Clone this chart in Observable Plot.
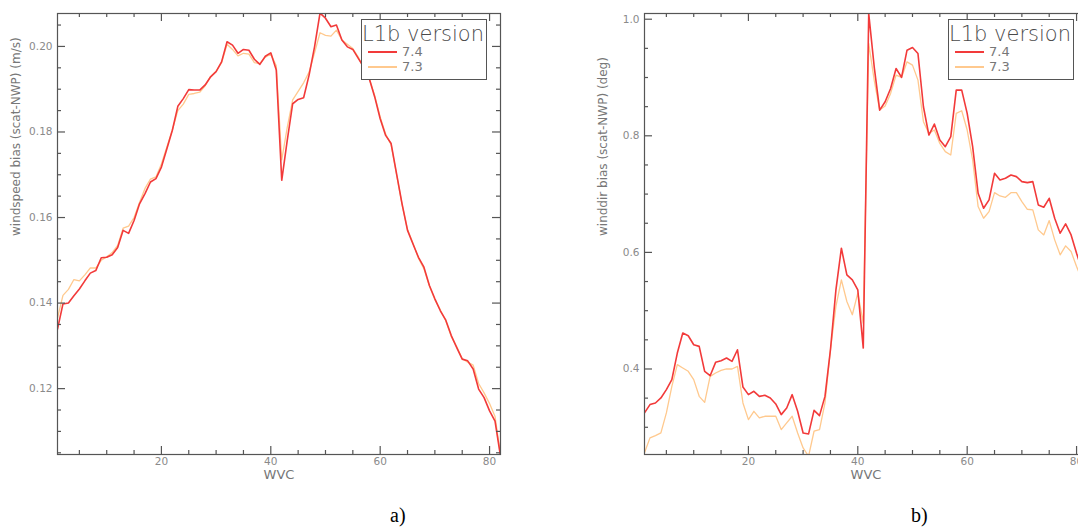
<!DOCTYPE html>
<html><head><meta charset="utf-8">
<script src="https://cdn.jsdelivr.net/npm/d3@7"></script>
<script src="https://cdn.jsdelivr.net/npm/@observablehq/plot@0.6"></script>
<style>
html,body{margin:0;padding:0;background:#fff;overflow:hidden;}
#fig{position:relative;width:1078px;height:528px;overflow:hidden;background:#fff;}
.panel{position:absolute;top:0;width:540px;height:490px;}
.panel svg{max-width:none !important;}
.legend{position:absolute;width:126px;height:61px;border:1.5px solid #555;box-sizing:border-box;font-family:"DejaVu Sans";color:#666;background:#fff;}
.legend .ttl{position:absolute;left:0px;top:-1px;font-size:21px;font-weight:200;line-height:30px;white-space:nowrap;color:#4a4a4a;}
.legend .sw{position:absolute;left:6px;width:29px;height:0;border-top:2px solid;}
.legend .lb{position:absolute;left:40px;font-size:13px;line-height:14px;color:#777;}
.tag{position:absolute;top:505px;font-family:"Liberation Serif";font-size:20px;line-height:20px;color:#000;}
svg g[aria-label="title"] text{letter-spacing:1.6px;}
</style></head><body>
<div id="fig"></div>
<script>
// ---- data ----
const wvc = d3.range(1, 83); // wind vector cell index 1..82
const versions = ["7.4", "7.3"];
const speed74 = [0.1339,0.1398,0.1400,0.1417,0.1433,0.1452,0.1470,0.1476,0.1506,0.1507,
0.1513,0.1530,0.1570,0.1563,0.1593,0.1632,0.1656,0.1683,0.1691,0.1718,
0.1761,0.1804,0.1860,0.1878,0.1899,0.1898,0.1898,0.1910,0.1929,0.1941,
0.1964,0.2011,0.2003,0.1984,0.1993,0.1991,0.1970,0.1958,0.1977,0.1985,
0.1945,0.1687,0.1780,0.1866,0.1876,0.1880,0.1933,0.1999,0.2078,0.2066,
0.2046,0.2050,0.2015,0.1999,0.1993,0.1972,0.1952,0.1925,0.1882,0.1831,
0.1792,0.1773,0.1702,0.1632,0.1570,0.1538,0.1507,0.1484,0.1441,0.1410,
0.1382,0.1360,0.1324,0.1296,0.1269,0.1265,0.1246,0.1199,0.1179,0.1148,
0.1124,0.1042];
const speed73 = [0.1365,0.1418,0.1432,0.1455,0.1452,0.1466,0.1482,0.1482,0.1500,0.1508,
0.1518,0.1535,0.1575,0.1580,0.1600,0.1635,0.1668,0.1690,0.1695,0.1725,
0.1765,0.1805,0.1850,0.1865,0.1888,0.1890,0.1893,0.1908,0.1930,0.1942,
0.1962,0.2005,0.1993,0.1978,0.1984,0.1982,0.1962,0.1960,0.1975,0.1982,
0.1955,0.1735,0.1810,0.1875,0.1895,0.1915,0.1940,0.1985,0.2032,0.2026,
0.2024,0.2038,0.2015,0.2005,0.1995,0.1975,0.1948,0.1925,0.1885,0.1835,
0.1795,0.1770,0.1700,0.1630,0.1572,0.1540,0.1505,0.1480,0.1440,0.1408,
0.1384,0.1358,0.1322,0.1298,0.1270,0.1262,0.1255,0.1212,0.1190,0.1165,
0.1135,0.1045];
const dir74 = [0.3246,0.3389,0.3417,0.3503,0.3645,0.3817,0.4273,0.4616,0.4570,0.4416,
0.4388,0.3960,0.3885,0.4114,0.4142,0.4188,0.4130,0.4330,0.3690,0.3560,
0.3617,0.3530,0.3548,0.3503,0.3400,0.3217,0.3331,0.3560,0.3274,0.2903,
0.2886,0.3291,0.3200,0.3530,0.4330,0.5358,0.6072,0.5615,0.5530,0.5358,
0.4359,1.0097,0.9184,0.8441,0.8584,0.8812,0.9155,0.9001,0.9469,0.9515,
0.9412,0.8498,0.8013,0.8202,0.7928,0.7813,0.7985,0.8784,0.8784,0.8384,
0.7813,0.7014,0.6757,0.6900,0.7357,0.7242,0.7271,0.7328,0.7300,0.7214,
0.7197,0.7214,0.6814,0.6774,0.6928,0.6586,0.6329,0.6489,0.6300,0.5986,
0.5700,0.5600];
const dir73 = [0.2561,0.2818,0.2858,0.2903,0.3246,0.3703,0.4074,0.4017,0.3960,0.3817,
0.3531,0.3428,0.3874,0.3931,0.3977,0.4000,0.4000,0.4045,0.3417,0.3132,
0.3274,0.3160,0.3189,0.3189,0.3189,0.2960,0.3075,0.3189,0.2903,0.2646,
0.2504,0.2932,0.2960,0.3417,0.4330,0.5073,0.5530,0.5158,0.4930,0.5301,
0.4787,0.9583,0.8955,0.8441,0.8510,0.8727,0.9041,0.9001,0.9269,0.9212,
0.8955,0.8242,0.8042,0.8099,0.7870,0.7728,0.7671,0.8384,0.8430,0.8099,
0.7585,0.6786,0.6586,0.6700,0.7025,0.6968,0.6945,0.7025,0.7025,0.6871,
0.6740,0.6728,0.6386,0.6300,0.6546,0.6215,0.5958,0.6112,0.6015,0.5758,
0.5530,0.5350];
const xMajor = [20, 40, 60, 80];
const xMinor = [5, 10, 15, 25, 30, 35, 45, 50, 55, 65, 70, 75];
const speedMajor = [0.12, 0.14, 0.16, 0.18, 0.20];
const speedMinor = [0.105, 0.110, 0.115, 0.125, 0.130, 0.135, 0.145, 0.150, 0.155, 0.165, 0.170, 0.175, 0.185, 0.190, 0.195, 0.205];
const dirMajor = [0.4, 0.6, 0.8, 1.0];
const dirMinor = [0.30, 0.35, 0.45, 0.50, 0.55, 0.65, 0.70, 0.75, 0.85, 0.90, 0.95];
const xDomain = [1, 82];
const speedDomain = [0.1046, 0.2077];
const dirDomain = [0.2533, 1.0098];

// ---- style / layout ----
const seriesColor = {"7.4": "#f23a3a", "7.3": "#ffc98e"};
const seriesWidth = {"7.4": 1.6, "7.3": 1.3};
const axisInk = "#555";
const tickInk = "#555";
const labelInk = "#8a8a8a";
const W = 540, H = 490, mL = 57, mR = 40, mT = 13, mB = 36;
const frameW = W - mL - mR, frameH = H - mT - mB;
const majorLen = 8, minorLen = 4;

function rows(a, b) {
  return [
    ...wvc.map((w, i) => ({wvc: w, v: b[i], version: "7.3"})),
    ...wvc.map((w, i) => ({wvc: w, v: a[i], version: "7.4"}))
  ];
}

// inward tick marks on all four sides of the frame
function tickMarks(yMajor, yMinor) {
  const s = {stroke: tickInk, strokeWidth: 1.2};
  return [
    Plot.ruleX(xMajor, {x: d => d, insetTop: frameH - majorLen, ...s}),
    Plot.ruleX(xMinor, {x: d => d, insetTop: frameH - minorLen, ...s}),
    Plot.ruleX(xMajor, {x: d => d, insetBottom: frameH - majorLen, ...s}),
    Plot.ruleX(xMinor, {x: d => d, insetBottom: frameH - minorLen, ...s}),
    Plot.ruleY(yMajor, {y: d => d, insetRight: frameW - majorLen, ...s}),
    Plot.ruleY(yMinor, {y: d => d, insetRight: frameW - minorLen, ...s}),
    Plot.ruleY(yMajor, {y: d => d, insetLeft: frameW - majorLen, ...s}),
    Plot.ruleY(yMinor, {y: d => d, insetLeft: frameW - minorLen, ...s})
  ];
}

function panel({data, yDomain, yMajor, yMinor, yFmt, yTitle}) {
  return Plot.plot({
    width: W, height: H,
    marginLeft: mL, marginRight: mR, marginTop: mT, marginBottom: mB,
    style: {fontFamily: "DejaVu Sans", fontSize: "10.5px", background: "#fff", color: labelInk, maxWidth: "none"},
    x: {domain: xDomain},
    y: {domain: yDomain},
    marks: [
      Plot.line(data.filter(d => d.version === "7.3"), {x: "wvc", y: "v", stroke: seriesColor["7.3"], strokeWidth: seriesWidth["7.3"], clip: true}),
      Plot.line(data.filter(d => d.version === "7.4"), {x: "wvc", y: "v", stroke: seriesColor["7.4"], strokeWidth: seriesWidth["7.4"], clip: true}),
      Plot.frame({stroke: axisInk, strokeWidth: 1.2}),
      ...tickMarks(yMajor, yMinor),
      // tick labels
      Plot.axisX({ticks: xMajor, anchor: "bottom", tickSize: 0, tickPadding: 3, tickFormat: "d", label: null, fill: labelInk}),
      Plot.axisY({ticks: yMajor, anchor: "left", tickSize: 0, tickPadding: 5, tickFormat: yFmt, label: null, fill: labelInk}),
      // axis titles
      Plot.text(["WVC"], {text: d => d, frameAnchor: "bottom", lineAnchor: "top", dy: 15, fontSize: 13, fill: "#777", ariaLabel: "title"}),
      Plot.text([yTitle], {text: d => d, frameAnchor: "left", dx: -41, dy: 2, rotate: -90, fontSize: 12, fill: "#777", ariaLabel: "title"})
    ]
  });
}

const fig = document.getElementById("fig");

const panels = [
  {left: 0, tag: "a)", tagLeft: 390, legendLeft: 361,
   data: rows(speed74, speed73), yDomain: speedDomain, yMajor: speedMajor, yMinor: speedMinor,
   yFmt: d3.format(".2f"), yTitle: "windspeed bias (scat-NWP) (m/s)"},
  {left: 587, tag: "b)", tagLeft: 911, legendLeft: 948,
   data: rows(dir74, dir73), yDomain: dirDomain, yMajor: dirMajor, yMinor: dirMinor,
   yFmt: d3.format(".1f"), yTitle: "winddir bias (scat-NWP) (deg)"}
];

for (const p of panels) {
  const wrap = document.createElement("div");
  wrap.className = "panel";
  wrap.style.left = p.left + "px";
  wrap.appendChild(panel(p));
  fig.appendChild(wrap);

  const lg = document.createElement("div");
  lg.className = "legend";
  lg.style.left = p.legendLeft + "px";
  lg.style.top = "19px";
  const ttl = document.createElement("div");
  ttl.className = "ttl";
  ttl.textContent = "L1b version";
  lg.appendChild(ttl);
  versions.forEach((v, i) => {
    const sw = document.createElement("div");
    sw.className = "sw";
    sw.style.top = (31 + i * 15) + "px";
    sw.style.borderTopColor = seriesColor[v];
    lg.appendChild(sw);
    const lb = document.createElement("div");
    lb.className = "lb";
    lb.style.top = (25 + i * 15) + "px";
    lb.textContent = v;
    lg.appendChild(lb);
  });
  fig.appendChild(lg);

  const tag = document.createElement("div");
  tag.className = "tag";
  tag.style.left = p.tagLeft + "px";
  tag.textContent = p.tag;
  fig.appendChild(tag);
}
</script>
</body></html>
